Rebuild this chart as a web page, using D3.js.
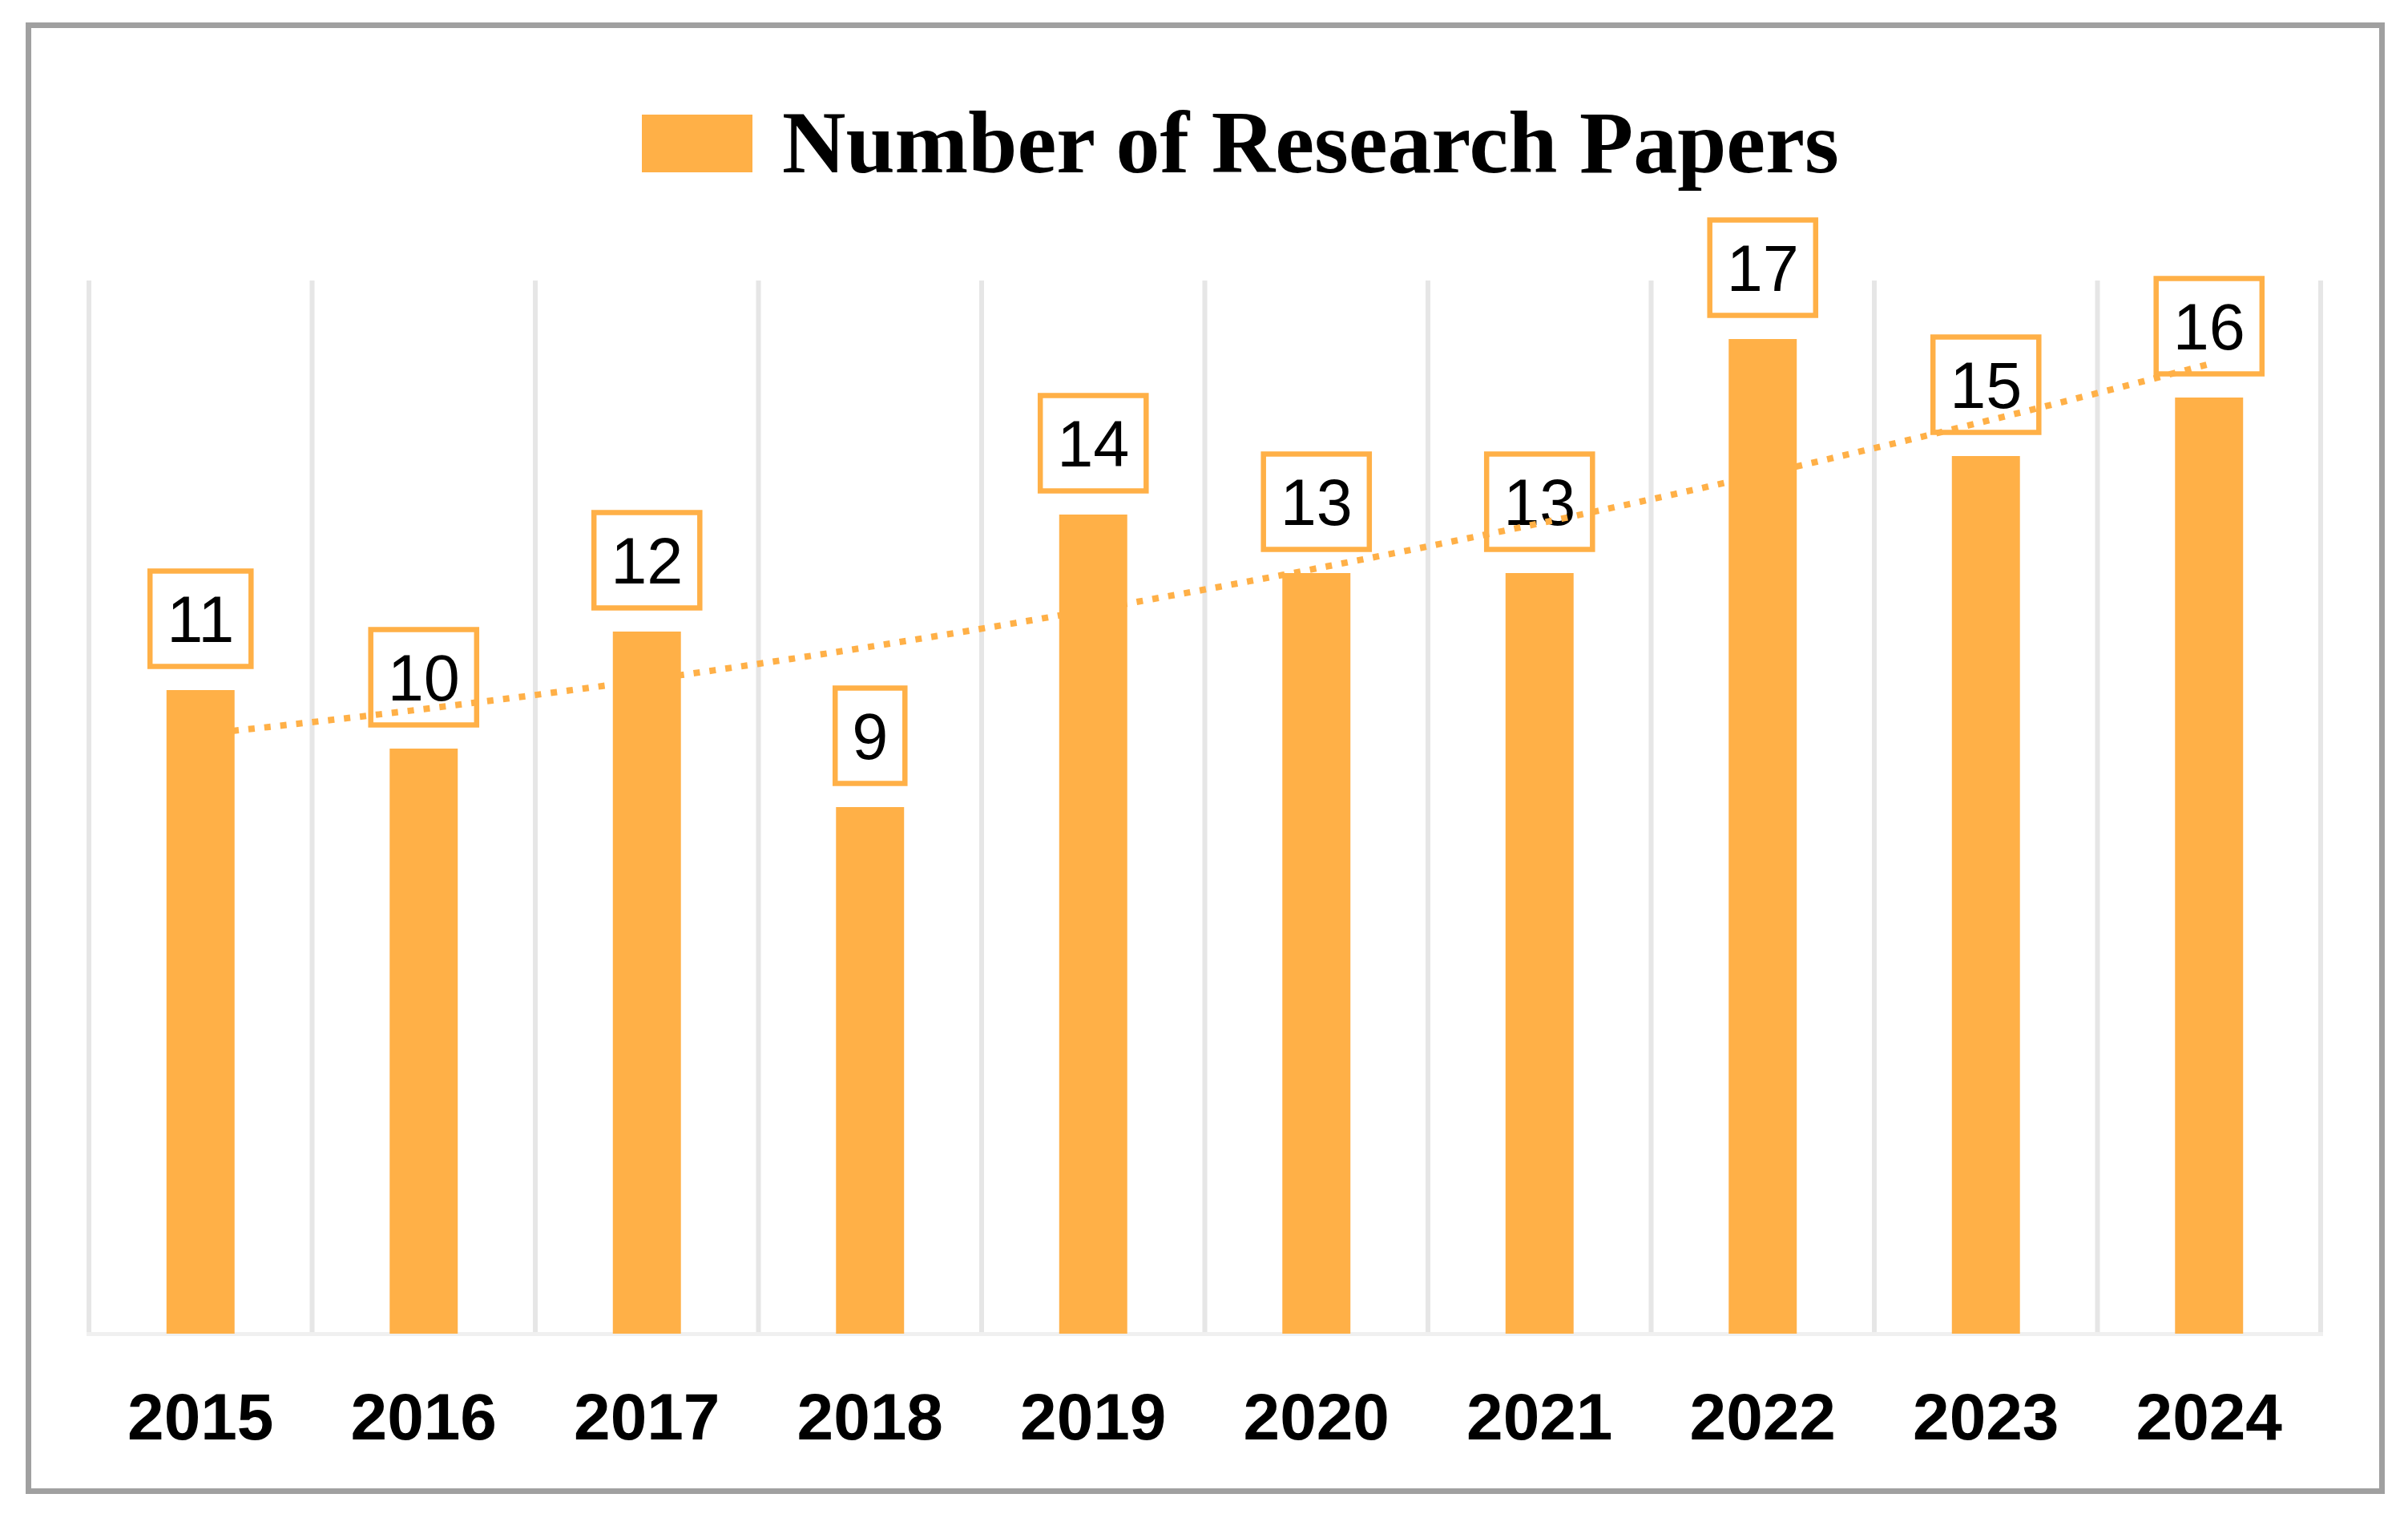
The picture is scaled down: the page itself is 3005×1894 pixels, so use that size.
<!DOCTYPE html>
<html>
<head>
<meta charset="utf-8">
<script src="https://cdn.jsdelivr.net/npm/d3@7"></script>
<style>
  html, body { margin: 0; padding: 0; background: #fff; }
  svg { display: block; }
</style>
</head>
<body>
<svg id="chart" width="3005" height="1894"></svg>
<script>
const years = ["2015", "2016", "2017", "2018", "2019", "2020", "2021", "2022", "2023", "2024"];
const papers = [11, 10, 12, 9, 14, 13, 13, 17, 15, 16];
const seriesName = "Number of Research Papers";

const orange = "#ffb047";

const svg = d3.select("#chart"),
  width = +svg.attr("width"),
  height = +svg.attr("height");

const x = d3.scaleBand().domain(years).range([111, 2896]);
const y = d3.scaleLinear().domain([0, 18]).range([1664, 350]);
const barW = x.bandwidth() * 0.305;

// frame
svg.append("rect")
  .attr("x", 35.5).attr("y", 31.5)
  .attr("width", 2937).attr("height", 1829)
  .attr("fill", "#fff")
  .attr("stroke", "#a0a0a0")
  .attr("stroke-width", 7);

// vertical gridlines at category boundaries
const edges = years.map((d) => x(d)).concat([x.range()[1]]);
svg.append("g")
  .selectAll("line")
  .data(edges)
  .enter()
  .append("line")
  .attr("x1", (d) => d).attr("x2", (d) => d)
  .attr("y1", y(18)).attr("y2", y(0))
  .attr("stroke", "#e6e6e6")
  .attr("stroke-width", 6);

// baseline
svg.append("line")
  .attr("x1", x.range()[0] - 3).attr("x2", x.range()[1] + 3)
  .attr("y1", y(0) + 0.5).attr("y2", y(0) + 0.5)
  .attr("stroke", "#f0f0f0")
  .attr("stroke-width", 5);

// data labels (boxes have no fill, the trend line shows through)
const labels = svg.append("g").selectAll("g")
  .data(papers)
  .enter()
  .append("g")
  .attr("transform", (d, i) => `translate(${x(years[i]) + x.bandwidth() / 2},${y(d) - 27 - 62})`);

labels.append("text")
  .attr("text-anchor", "middle")
  .attr("dy", "0.36em")
  .attr("font-family", "'Liberation Sans', Arial, sans-serif")
  .attr("font-size", 81)
  .attr("fill", "#000")
  .text((d) => d);

labels.each(function () {
  const g = d3.select(this);
  const w = g.select("text").node().getComputedTextLength() + 42;
  g.insert("rect", "text")
    .attr("x", -w / 2).attr("y", -59.5)
    .attr("width", w).attr("height", 119)
    .attr("fill", "none")
    .attr("stroke", orange)
    .attr("stroke-width", 6.5);
});

// polynomial (order 2) trendline, least squares on the series
const n = papers.length;
const xs = d3.range(n);
const mx = d3.mean(xs);
const t = xs.map((v) => v - mx);
const s2 = d3.sum(t, (v) => v * v);
const s4 = d3.sum(t, (v) => v ** 4);
const sy = d3.sum(papers);
const sty = d3.sum(t, (v, i) => v * papers[i]);
const st2y = d3.sum(t, (v, i) => v * v * papers[i]);
const b = sty / s2;
const c = (st2y - (s2 / n) * sy) / (s4 - (s2 * s2) / n);
const a = (sy - c * s2) / n;
const trend = (i) => a + b * (i - mx) + c * (i - mx) ** 2;

const trendPts = d3.range(0, n - 1 + 0.001, 0.05);
const line = d3.line()
  .x((i) => x(years[0]) + x.bandwidth() / 2 + i * x.step())
  .y((i) => y(trend(i)));

svg.append("path")
  .datum(trendPts)
  .attr("d", line)
  .attr("fill", "none")
  .attr("stroke", orange)
  .attr("stroke-width", 8)
  .attr("stroke-dasharray", "8 12");

// bars
svg.append("g")
  .selectAll("rect")
  .data(papers)
  .enter()
  .append("rect")
  .attr("x", (d, i) => x(years[i]) + (x.bandwidth() - barW) / 2)
  .attr("y", (d) => y(d))
  .attr("width", barW)
  .attr("height", (d) => y(0) - y(d))
  .attr("fill", orange);

// category axis
const axis = svg.append("g")
  .attr("transform", `translate(0,${y(0)})`)
  .call(d3.axisBottom(x).tickSize(0).tickPadding(74));
axis.select(".domain").remove();
axis.selectAll("text")
  .attr("font-family", "'Liberation Sans', Arial, sans-serif")
  .attr("font-weight", "bold")
  .attr("font-size", 82)
  .attr("fill", "#000");

// legend
const legend = svg.append("g").attr("transform", "translate(801,143)");
legend.append("rect")
  .attr("width", 138).attr("height", 72)
  .attr("fill", orange);
legend.append("text")
  .attr("x", 175).attr("y", 72)
  .attr("font-family", "'Liberation Serif', 'Times New Roman', serif")
  .attr("font-weight", "bold")
  .attr("font-size", 110)
  .attr("fill", "#000")
  .text(seriesName);
</script>
</body>
</html>
